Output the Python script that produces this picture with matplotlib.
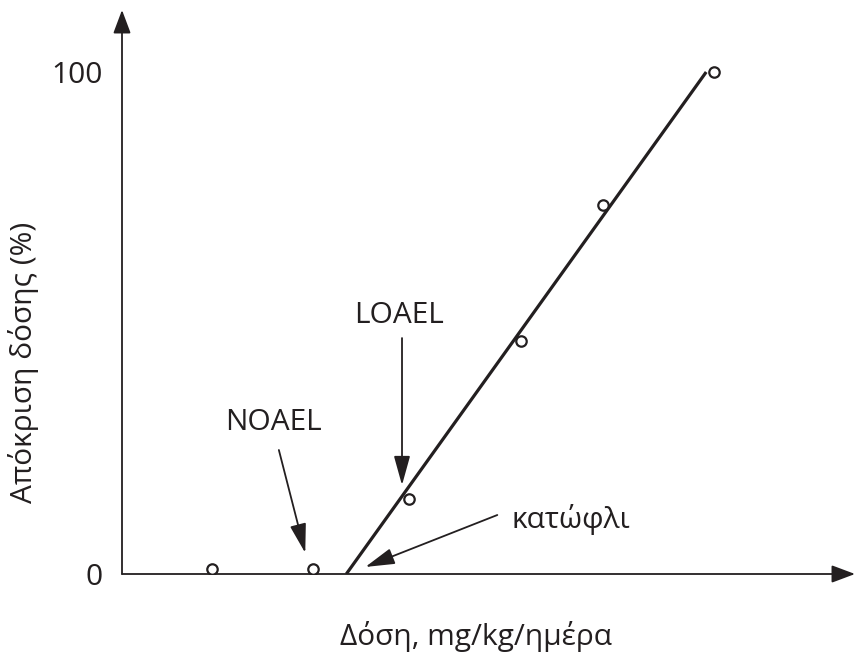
import matplotlib
matplotlib.use("Agg")
import matplotlib.pyplot as plt

plt.rcParams['font.family'] = ['Open Sans', 'DejaVu Sans']

# data (dose in arbitrary units, response in %)
dose = [1.23, 2.61, 3.92, 5.44, 6.56, 8.08]
response = [1.0, 1.0, 14.9, 46.4, 73.5, 100.0]
fit_dose = [3.06, 7.97]
fit_response = [0, 100]

xlabel = "Δόση, mg/kg/ημέρα"
ylabel = "Απόκριση δόσης (%)"
yticks = [0, 100]

ink = "#231f20"
fs = 21.5
W, H = 857, 662

fig = plt.figure(figsize=(W / 100, H / 100), dpi=100)
ax = fig.add_axes([122 / W, (H - 574) / H, (855 - 122) / W, (574 - 10) / H])
ax.set_xlim(0, 10)
ax.set_ylim(0, 112.35)
for s in ax.spines.values():
    s.set_visible(False)

# axes drawn as arrows
axis_arrow = dict(arrowstyle="-|>,head_length=0.8,head_width=0.3",
                  color=ink, lw=1.3, shrinkA=0, shrinkB=0, mutation_scale=18)
ax.annotate("", xy=(1, 0), xytext=(0, 0), xycoords="axes fraction", arrowprops=axis_arrow)
ax.annotate("", xy=(0, 1), xytext=(0, 0), xycoords="axes fraction", arrowprops=axis_arrow)

ax.plot(fit_dose, fit_response, color=ink, lw=2.3, solid_capstyle="butt", zorder=3)
ax.plot(dose, response, "o", ms=7.5, mfc="white", mec=ink, mew=1.6, zorder=4)

ax.set_xticks([])
ax.set_yticks(yticks)
ax.set_yticklabels([str(t) for t in yticks])
ax.tick_params(axis="y", length=0, pad=14, labelsize=fs, labelcolor=ink)

ax.set_xlabel(xlabel, fontsize=fs, color=ink)
ax.xaxis.set_label_coords((476 - 122) / 733, -(637 - 574) / 564)
ax.xaxis.label.set_va("center")
ax.set_ylabel(ylabel, fontsize=fs, color=ink)
ax.yaxis.set_label_coords((24 - 122) / 733, (574 - 362) / 564)
ax.yaxis.label.set_va("center")

arr = dict(arrowstyle="-|>,head_length=0.9,head_width=0.25", color=ink, lw=1.3,
           shrinkA=0, shrinkB=0, mutation_scale=20)
ax.annotate("", xy=(2.50, 4.2), xytext=(2.14, 24.7), arrowprops=arr)
ax.text(2.07, 30.1, "NOAEL", fontsize=fs, color=ink, ha="center", va="center")
ax.annotate("", xy=(3.82, 17.7), xytext=(3.82, 47.0), arrowprops=arr)
ax.text(3.78, 51.4, "LOAEL", fontsize=fs, color=ink, ha="center", va="center")
ax.annotate("", xy=(3.32, 1.4), xytext=(5.12, 11.75), arrowprops=arr)
ax.text(5.32, 10.8, "κατώφλι", fontsize=fs, color=ink, ha="left", va="center")

fig.savefig("out.png", dpi=100)
